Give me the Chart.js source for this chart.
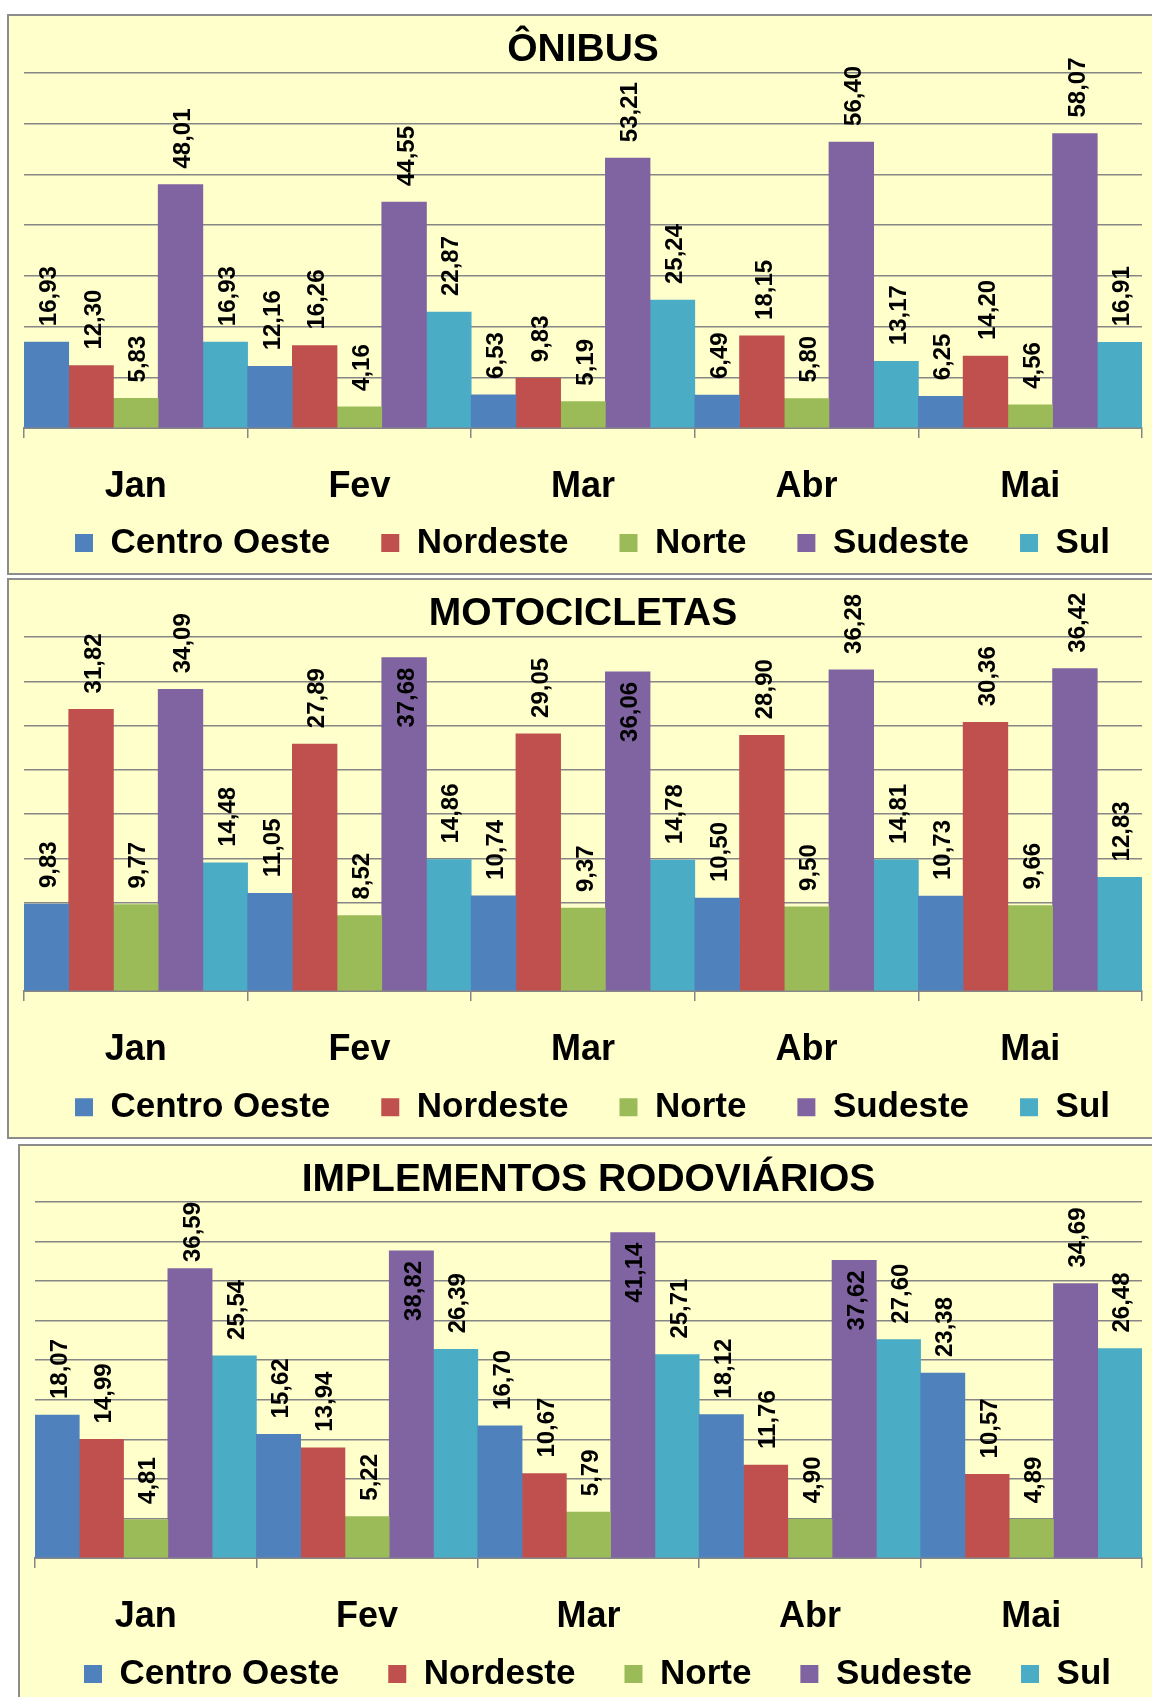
<!DOCTYPE html>
<html lang="pt">

<head>
    <meta charset="UTF-8">
    <title>Ônibus, Motocicletas, Implementos Rodoviários</title>
    <script src="https://cdn.jsdelivr.net/npm/chart.js@4.4.1/dist/chart.umd.min.js"></script>
    <style>
        html, body { margin: 0; padding: 0; background: #fff; overflow: hidden; width: 1152px; height: 1697px; }
        .panel { position: absolute; background: #ffffcc; border: 2px solid #8c8c8c; }
        .panel canvas { display: block; }
        #p1 { left: 7px; top: 14px; }
        #p2 { left: 7px; top: 578px; }
        #p3 { left: 18px; top: 1144px; }
    </style>
</head>

<body>
    <div class="panel" id="p1"><canvas id="c1" width="1200" height="557"></canvas></div>
    <div class="panel" id="p2"><canvas id="c2" width="1200" height="557"></canvas></div>
    <div class="panel" id="p3"><canvas id="c3" width="1200" height="560"></canvas></div>

    <script>
        const months = ["Jan", "Fev", "Mar", "Abr", "Mai"];
        const regions = ["Centro Oeste", "Nordeste", "Norte", "Sudeste", "Sul"];

        // one row per region, one value per month
        const onibusValues = [
            [16.93, 12.16, 6.53, 6.49, 6.25],
            [12.30, 16.26, 9.83, 18.15, 14.20],
            [5.83, 4.16, 5.19, 5.80, 4.56],
            [48.01, 44.55, 53.21, 56.40, 58.07],
            [16.93, 22.87, 25.24, 13.17, 16.91]
        ];
        const motoValues = [
            [9.83, 11.05, 10.74, 10.50, 10.73],
            [31.82, 27.89, 29.05, 28.90, 30.36],
            [9.77, 8.52, 9.37, 9.50, 9.66],
            [34.09, 37.68, 36.06, 36.28, 36.42],
            [14.48, 14.86, 14.78, 14.81, 12.83]
        ];
        const implementosValues = [
            [18.07, 15.62, 16.70, 18.12, 23.38],
            [14.99, 13.94, 10.67, 11.76, 10.57],
            [4.81, 5.22, 5.79, 4.90, 4.89],
            [36.59, 38.82, 41.14, 37.62, 34.69],
            [25.54, 26.39, 25.71, 27.60, 26.48]
        ];

        const regionColors = ["#4f81bd", "#c0504d", "#9bbb59", "#8064a2", "#4bacc6"];
        const FONT = '"Liberation Sans", Arial, sans-serif';
        const TITLE_SIZE = 39;
        const GRID = "#868686";

        Chart.defaults.font.family = FONT;
        Chart.defaults.color = "#000";

        // vertical value labels, moved inside the bar when they would hit the title
        const barLabels = {
            id: "barLabels",
            afterDatasetsDraw(chart, args, opts) {
                const ctx = chart.ctx;
                const area = chart.chartArea;
                const tb = chart.titleBlock;
                ctx.save();
                ctx.font = "bold " + TITLE_SIZE + "px " + FONT;
                const tw = ctx.measureText(chart.options.plugins.title.text).width;
                const tcx = (tb.left + tb.right) / 2;
                const tl = tcx - tw / 2 - 16, tr = tcx + tw / 2 + 16, tbot = tb.bottom + 4;

                ctx.font = "bold 24px " + FONT;
                ctx.fillStyle = "#000";
                ctx.textBaseline = "middle";
                ctx.textAlign = "left";
                chart.data.datasets.forEach((ds, i) => {
                    chart.getDatasetMeta(i).data.forEach((bar, j) => {
                        const text = ds.data[j].toFixed(2).replace(".", ",");
                        const len = ctx.measureText(text).width;
                        let bottom = bar.y - 16;
                        let top = bottom - len;
                        if (opts.clampTop && top < area.top) {
                            top = area.top;
                            bottom = top + len;
                        }
                        const hitsTitle = bar.x + 12 > tl && bar.x - 12 < tr && top < tbot && bottom > tb.top;
                        if (hitsTitle || bottom > bar.y) {
                            top = bar.y + 10;
                            bottom = top + len;
                        }
                        ctx.save();
                        ctx.translate(bar.x + 3, bottom);
                        ctx.rotate(-Math.PI / 2);
                        ctx.fillText(text, 0, 0);
                        ctx.restore();
                    });
                });
                ctx.restore();
            }
        };

        function makeChart(id, title, values, yMax, step, lay) {
            const datasets = regions.map((r, i) => ({
                label: r,
                data: values[i],
                backgroundColor: regionColors[i],
                borderWidth: 0,
                barPercentage: 1,
                categoryPercentage: 1
            }));

            return new Chart(document.getElementById(id), {
                type: "bar",
                data: { labels: months, datasets },
                plugins: [barLabels],
                options: {
                    responsive: false,
                    animation: false,
                    devicePixelRatio: 1,
                    layout: { padding: { left: 15, right: 0, top: 0, bottom: lay.bottom } },
                    scales: {
                        x: {
                            grid: { display: true, drawOnChartArea: false, drawTicks: true, tickLength: 10, color: GRID, lineWidth: 1.5 },
                            border: { display: true, color: GRID, width: 2 },
                            // mirror keeps the month labels unclipped while the axis box stays short
                            ticks: { font: { size: 36, weight: "bold" }, color: "#000", mirror: true, padding: -81, maxRotation: 0 },
                            afterFit(s) { s.height = lay.xHeight; }
                        },
                        y: {
                            min: 0,
                            max: yMax,
                            ticks: { display: false, stepSize: step },
                            grid: { color: GRID, lineWidth: 1.5, drawTicks: false },
                            border: { display: false },
                            afterFit(s) { s.width = 0; }
                        },
                        yR: {
                            position: "right",
                            ticks: { display: false },
                            grid: { display: false },
                            border: { display: false },
                            afterFit(s) { s.width = lay.rightW; }
                        }
                    },
                    plugins: {
                        title: {
                            display: true,
                            text: title,
                            fullSize: false,
                            color: "#000",
                            font: { size: TITLE_SIZE, weight: "bold", lineHeight: 1.1 },
                            padding: { top: 12.55, bottom: lay.titleBottom }
                        },
                        legend: {
                            position: "bottom",
                            align: "start",
                            labels: {
                                boxWidth: 18,
                                boxHeight: 18,
                                padding: lay.legendPad,
                                color: "#000",
                                font: { size: 35, weight: "bold" }
                            }
                        },
                        tooltip: { enabled: false },
                        barLabels: { clampTop: lay.clampTop }
                    }
                }
            });
        }

        makeChart("c1", "ÔNIBUS", onibusValues, 70, 10,
            { titleBottom: 1.55, xHeight: 46.5, legendPad: 51, bottom: 2.5, rightW: 67, clampTop: false });
        makeChart("c2", "MOTOCICLETAS", motoValues, 40, 5,
            { titleBottom: 1.55, xHeight: 47.8, legendPad: 51, bottom: 2.2, rightW: 67, clampTop: false });
        makeChart("c3", "IMPLEMENTOS RODOVIÁRIOS", implementosValues, 45, 5,
            { titleBottom: 0.55, xHeight: 49.5, legendPad: 49, bottom: 4.5, rightW: 78, clampTop: true });
    </script>
</body>

</html>
